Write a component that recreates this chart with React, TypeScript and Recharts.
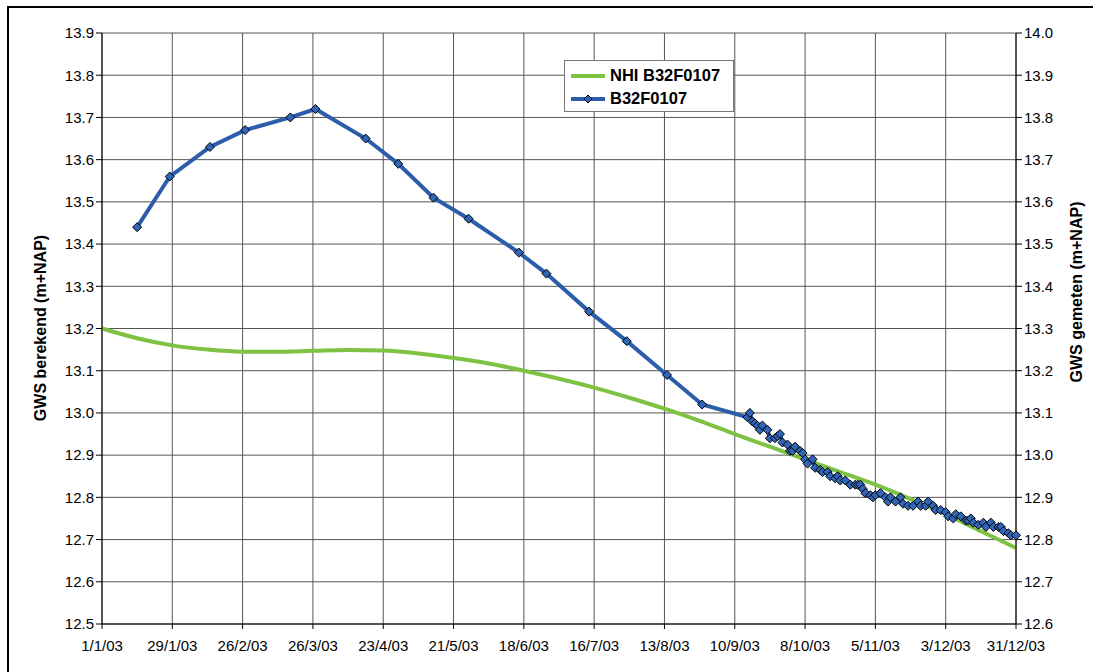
import React from "react";
import { CartesianGrid, Line, LineChart, XAxis, YAxis } from "recharts";

// days since 1/1/03
const xTicks = [0, 28, 56, 84, 112, 140, 168, 196, 224, 252, 280, 308, 336, 364];
const xTickLabels = [
  "1/1/03", "29/1/03", "26/2/03", "26/3/03", "23/4/03", "21/5/03", "18/6/03",
  "16/7/03", "13/8/03", "10/9/03", "8/10/03", "5/11/03", "3/12/03", "31/12/03",
];
const leftTicks = [12.5, 12.6, 12.7, 12.8, 12.9, 13.0, 13.1, 13.2, 13.3, 13.4, 13.5, 13.6, 13.7, 13.8, 13.9];
const rightTicks = [12.6, 12.7, 12.8, 12.9, 13.0, 13.1, 13.2, 13.3, 13.4, 13.5, 13.6, 13.7, 13.8, 13.9, 14.0];

// NHI B32F0107 (berekend, left axis)
const nhiDays = [0, 14, 28, 42, 56, 70, 84, 98, 112, 126, 140, 154, 168, 182, 196, 210, 224, 238, 252, 266, 280, 294, 308, 322, 336, 350, 364];
const nhiValues = [13.2, 13.177, 13.16, 13.15, 13.145, 13.145, 13.147, 13.149, 13.148, 13.141, 13.13, 13.117, 13.1, 13.081, 13.06, 13.036, 13.01, 12.981, 12.95, 12.92, 12.89, 12.86, 12.83, 12.796, 12.76, 12.72, 12.68];

// B32F0107 (gemeten, right axis)
const measDays = [
  14, 27, 43, 57, 75, 85, 105, 118, 132, 146, 166, 177, 194, 209, 225, 239,
  257, 258, 259, 260, 261, 262, 263, 265, 266, 268, 269, 270, 271, 273, 274, 275,
  276, 278, 279, 280, 281, 283, 284, 286, 287, 289, 290, 292, 293, 294, 296, 298,
  300, 301, 302, 303, 304, 306, 307, 308, 310, 312, 313, 314, 316, 318, 319, 321,
  323, 325, 326, 328, 329, 331, 332, 334, 336, 337, 339, 340, 342, 344, 345, 346,
  347, 349, 351, 352, 354, 355, 357, 358, 359, 361, 362, 364,
];
const measValues = [
  13.54, 13.66, 13.73, 13.77, 13.8, 13.82, 13.75, 13.69, 13.61, 13.56, 13.48, 13.43, 13.34, 13.27, 13.19, 13.12,
  13.09, 13.1, 13.08, 13.075, 13.07, 13.06, 13.07, 13.06, 13.04, 13.04, 13.045, 13.05, 13.03, 13.025, 13.01, 13.01,
  13.02, 13.01, 13.005, 12.99, 12.98, 12.99, 12.97, 12.965, 12.96, 12.96, 12.95, 12.945, 12.95, 12.94, 12.94, 12.93,
  12.93, 12.93, 12.93, 12.92, 12.91, 12.905, 12.9, 12.905, 12.91, 12.9, 12.89, 12.9, 12.89, 12.9, 12.885, 12.88,
  12.88, 12.89, 12.88, 12.88, 12.89, 12.88, 12.87, 12.87, 12.865, 12.855, 12.85, 12.86, 12.855, 12.845, 12.845, 12.85,
  12.84, 12.835, 12.84, 12.83, 12.84, 12.83, 12.83, 12.83, 12.82, 12.815, 12.81, 12.81,
];

const nhiData = nhiDays.map((day, i) => ({ day, nhi: nhiValues[i] }));
const measData = measDays.map((day, i) => ({ day, meas: measValues[i] }));

const FONT = "Arial, 'Liberation Sans', Helvetica, sans-serif";
const GREEN = "#7DC242";
const BLUE = "#2B5DAA";

const Diamond = (props: any) => {
  const { cx, cy } = props;
  if (cx == null || cy == null) return null;
  const r = 4.5;
  return (
    <polygon
      points={`${cx},${cy - r} ${cx + r},${cy} ${cx},${cy + r} ${cx - r},${cy}`}
      fill="#2F66B8"
      stroke="#000"
      strokeWidth={1}
    />
  );
};

const LegendBox = () => (
  <div
    style={{
      position: "absolute",
      left: 564,
      top: 60,
      border: "1px solid #777",
      background: "#fff",
      width: 170,
      height: 52,
      boxSizing: "border-box",
      fontFamily: FONT,
      fontWeight: 700,
      fontSize: 16.5,
      color: "#000",
      padding: "3px 0 0 6px",
    }}
  >
    <div style={{ display: "flex", alignItems: "center", height: 23 }}>
      <svg width={34} height={10} style={{ marginRight: 5 }}>
        <line x1={0} y1={5} x2={34} y2={5} stroke={GREEN} strokeWidth={4} />
      </svg>
      NHI B32F0107
    </div>
    <div style={{ display: "flex", alignItems: "center", height: 23 }}>
      <svg width={34} height={12} style={{ marginRight: 5 }}>
        <line x1={0} y1={6} x2={34} y2={6} stroke={BLUE} strokeWidth={4} />
        <polygon points="17,2 21,6 17,10 13,6" fill="#2F66B8" stroke="#000" strokeWidth={1} />
      </svg>
      B32F0107
    </div>
  </div>
);

export default function App() {
  const tickStyle = { fill: "#000", fontSize: 15, fontFamily: FONT };
  return (
    <div
      style={{
        position: "absolute",
        left: 0,
        top: 0,
        width: 1093,
        height: 672,
        overflow: "hidden",
        background: "#fff",
      }}
    >
      <div
        style={{
          position: "absolute",
          left: 7,
          top: 6,
          width: 1200,
          height: 800,
          border: "2px solid #000",
        }}
      />
      <div style={{ position: "absolute", left: 0, top: 0 }}>
        <LineChart
          width={1093}
          height={672}
          margin={{ top: 33, right: 17, left: 42, bottom: 18 }}
        >
          <CartesianGrid yAxisId="left" stroke="#555" strokeWidth={1} />
          <XAxis
            dataKey="day"
            type="number"
            domain={[0, 364]}
            ticks={xTicks}
            allowDuplicatedCategory={false}
            tickFormatter={(v) => xTickLabels[xTicks.indexOf(v)]}
            tick={tickStyle}
            tickSize={5}
            tickMargin={11}
            height={30}
            stroke="#000"
            interval={0}
          />
          <YAxis
            yAxisId="left"
            orientation="left"
            domain={[12.5, 13.9]}
            ticks={leftTicks}
            tickFormatter={(v) => v.toFixed(1)}
            tick={tickStyle}
            tickSize={6}
            width={60}
            stroke="#000"
            interval={0}
          />
          <YAxis
            yAxisId="right"
            orientation="right"
            domain={[12.6, 14.0]}
            ticks={rightTicks}
            tickFormatter={(v) => v.toFixed(1)}
            tick={tickStyle}
            tickSize={6}
            width={60}
            stroke="#000"
            interval={0}
          />
          <Line
            yAxisId="left"
            data={nhiData}
            dataKey="nhi"
            type="monotone"
            stroke={GREEN}
            strokeWidth={4}
            dot={false}
            isAnimationActive={false}
          />
          <Line
            yAxisId="right"
            data={measData}
            dataKey="meas"
            type="linear"
            stroke={BLUE}
            strokeWidth={4}
            dot={<Diamond />}
            activeDot={false}
            isAnimationActive={false}
          />
        </LineChart>
      </div>
      <LegendBox />
      <svg
        width={1093}
        height={672}
        style={{ position: "absolute", left: 0, top: 0, pointerEvents: "none" }}
      >
        <text
          transform="translate(46,328) rotate(-90)"
          textAnchor="middle"
          fontFamily={FONT}
          fontWeight={700}
          fontSize={16}
          fill="#000"
        >
          GWS berekend (m+NAP)
        </text>
        <text
          transform="translate(1082,292) rotate(-90)"
          textAnchor="middle"
          fontFamily={FONT}
          fontWeight={700}
          fontSize={16}
          fill="#000"
        >
          GWS gemeten (m+NAP)
        </text>
      </svg>
    </div>
  );
}
